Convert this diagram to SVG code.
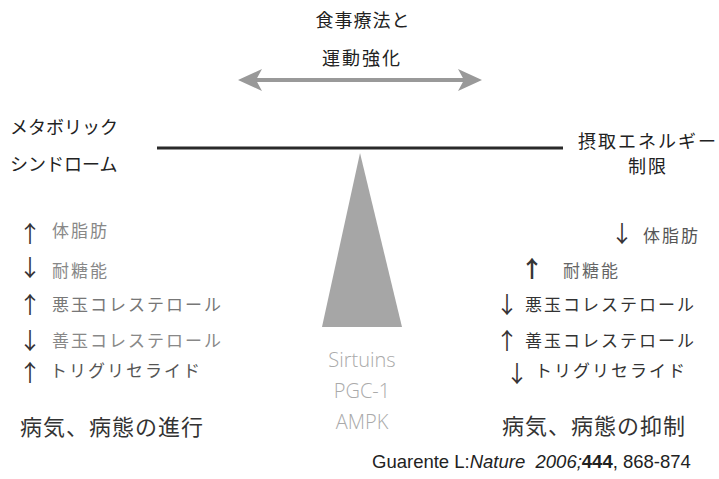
<svg xmlns="http://www.w3.org/2000/svg" width="719" height="479" viewBox="0 0 719 479">
<style>
.jp{font-family:"Noto Sans CJK JP","Noto Sans",sans-serif;}
.t17{font-size:17px;letter-spacing:2px;}
.t18{font-size:18px;}
.big{font-size:22px;letter-spacing:1px;fill:#333;}
.arr{font-family:"Noto Sans CJK JP",sans-serif;font-size:23px;fill:#333;text-anchor:middle;}
.mol{font-family:"Open Sans",sans-serif;font-weight:300;font-size:20px;fill:#aaa;text-anchor:middle;}
</style>
<rect width="719" height="479" fill="#fff"/>
<g id="top-label" class="jp" fill="#222" text-anchor="middle">
<text x="363" y="27" font-size="18" letter-spacing="1">食事療法と</text>
<text x="362" y="65" font-size="18" letter-spacing="2">運動強化</text>
</g>
<g id="connectors">
<line x1="256" y1="80" x2="464" y2="80" stroke="#999" stroke-width="4"/>
<polygon points="238,80 262,69 256,80 262,91" fill="#999"/>
<polygon points="482,80 458,69 464,80 458,91" fill="#999"/>
</g>
<g id="beam"><line x1="157" y1="148" x2="563" y2="148" stroke="#2a2a2a" stroke-width="3"/></g>
<g id="fulcrum"><polygon points="360,153 322,327 402,327" fill="#a6a6a6"/></g>
<g id="left-label" class="jp t18" fill="#222">
<text x="10" y="134">メタボリック</text>
<text x="10" y="171">シンドローム</text>
</g>
<g id="right-label" class="jp t18" fill="#222">
<text x="578" y="148" letter-spacing="2">摂取エネルギー</text>
<text x="648" y="173" text-anchor="middle" letter-spacing="2">制限</text>
</g>
<g id="left-list">
<g opacity="0.99">
<text class="arr" x="30" y="242">↑</text>
<text class="arr" x="30" y="276">↓</text>
<text class="arr" x="30" y="313">↑</text>
<text class="arr" x="30" y="349">↓</text>
<text class="arr" x="30" y="381">↑</text>
</g>
<text class="jp t17" x="52" y="237" fill="#888">体脂肪</text>
<text class="jp t17" x="52" y="277" fill="#888">耐糖能</text>
<text class="jp t17" x="52" y="311" fill="#777">悪玉コレステロール</text>
<text class="jp t17" x="52" y="347" fill="#888">善玉コレステロール</text>
<text class="jp t17" x="50" y="377" fill="#555" letter-spacing="0.5">トリグリセライド</text>
<text class="jp big" x="20" y="435">病気、病態の進行</text>
</g>
<g id="right-list">
<g opacity="0.99">
<text class="arr" x="622" y="242">↓</text>
<text class="arr" x="532" y="277" font-weight="bold">↑</text>
<text class="arr" x="507" y="313">↓</text>
<text class="arr" x="507" y="349">↑</text>
<text class="arr" x="517" y="382">↓</text>
</g>
<text class="jp t17" x="643" y="242" fill="#555">体脂肪</text>
<text class="jp t17" x="563" y="277" fill="#666">耐糖能</text>
<text class="jp t17" x="525" y="311" fill="#333">悪玉コレステロール</text>
<text class="jp t17" x="525" y="347" fill="#333">善玉コレステロール</text>
<text class="jp t17" x="535" y="377" fill="#333" letter-spacing="0.5">トリグリセライド</text>
<text class="jp big" x="502" y="434">病気、病態の抑制</text>
</g>
<g id="molecules">
<text class="mol" x="362" y="367">Sirtuins</text>
<text class="mol" x="362" y="398">PGC-1</text>
<text class="mol" x="362" y="429">AMPK</text>
</g>
<g id="citation">
<text x="372" y="468" font-family="'Liberation Sans',Arial,sans-serif" font-size="18.5" fill="#222" xml:space="preserve">Guarente L:<tspan font-style="italic">Nature  2006;</tspan><tspan font-weight="bold">444</tspan>, 868-874</text>
</g>
</svg>
